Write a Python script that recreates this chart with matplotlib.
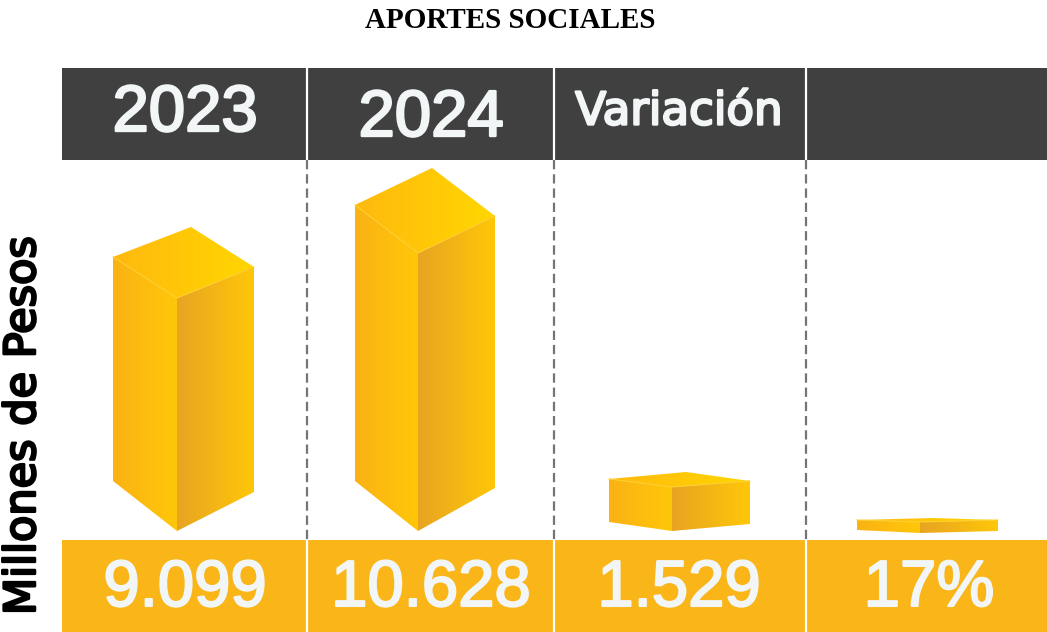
#!/usr/bin/env python3
"""Aportes sociales: pictographic 3D bars with header and value bands."""

import matplotlib

matplotlib.use("Agg")
import matplotlib.patheffects as pe
import matplotlib.pyplot as plt
import numpy as np
from matplotlib.colors import LinearSegmentedColormap
from matplotlib.patches import Polygon, Rectangle

TITLE = "APORTES SOCIALES"
Y_LABEL = "Millones de Pesos"
HEADERS = ["2023", "2024", "Variación", ""]
VALUE_LABELS = ["9.099", "10.628", "1.529", "17%"]
BAR_VALUES = [9099, 10628, 1529, 17]

# each block is its own pictogram, so each has its own scale (px per unit)
BAR_SCALES = [0.02561, 0.02616, 0.02878, 0.647]
BAR_X = [177, 418, 672, 920]
BAR_BOTTOM = [531, 531, 531, 533]
# offsets from the front edge: left/right x, top and bottom y of the sides
LEFT_DX = [-64, -63, -63, -63]
LEFT_TOP = [-41, -48, -8, -2]
LEFT_BOTTOM = [-50, -50, -9, -3]
RIGHT_DX = [77, 77, 78, 78]
RIGHT_TOP = [-31, -37, -6, -2]
RIGHT_BOTTOM = [-39, -43, -7, -2]
BACK_DX = [14, 14, 14, 13]
BACK_TOP = [-71, -85, -15, -4]

DIVIDERS = [307, 553.5, 806]
HEADER_X = [185, 431, 679, 926]
HEADER_Y = [114, 119, 112, 119]
HEADER_SIZE = [47, 47, 32.5, 47]
HEADER_FONT = ["Liberation Sans", "Liberation Sans", "DejaVu Sans", "Liberation Sans"]
VALUE_X = [185, 431, 679, 929]

DARK = "#404040"
BAND = "#FAB518"
TEXT = "#F2F6F7"
LEFT_CMAP = LinearSegmentedColormap.from_list("left", ["#FBB215", "#FFC708"])
RIGHT_CMAP = LinearSegmentedColormap.from_list("right", ["#E8A422", "#FFC708"])
TOP_CMAP = LinearSegmentedColormap.from_list("top", ["#FFB90F", "#FFD600"])


def face(ax, points, cmap):
    xs = [p[0] for p in points]
    ys = [p[1] for p in points]
    gradient = np.linspace(0, 1, 128).reshape(1, -1)
    image = ax.imshow(
        gradient,
        cmap=cmap,
        extent=(min(xs), max(xs), max(ys), min(ys)),
        aspect="auto",
        zorder=3,
    )
    patch = Polygon(points, closed=True, transform=ax.transData, facecolor="none", edgecolor="none")
    ax.add_patch(patch)
    image.set_clip_path(patch)


def thick(color, width):
    # medium weight with rounded ends, as in the reference lettering
    return [pe.withStroke(linewidth=width, foreground=color, capstyle="round", joinstyle="round")]


fig = plt.figure(figsize=(10.47, 6.32), dpi=100)
ax = fig.add_axes([0, 0, 1, 1])

# bands
ax.add_patch(Rectangle((62, 68), 985, 92, facecolor=DARK, edgecolor="none", zorder=1))
ax.add_patch(Rectangle((62, 540), 985, 92, facecolor=BAND, edgecolor="none", zorder=1))

# dividers: white across the bands, dashed between them
for x in DIVIDERS:
    ax.plot([x, x], [68, 160], color="white", linewidth=1.6, zorder=2)
    ax.plot([x, x], [540, 632], color="white", linewidth=1.6, zorder=2)
    ax.plot([x, x], [160, 544], color="#757575", linewidth=1.6, dashes=(4.2, 2.2), zorder=2)

# blocks
for i, value in enumerate(BAR_VALUES):
    x0 = BAR_X[i]
    bottom = BAR_BOTTOM[i]
    top = bottom - value * BAR_SCALES[i]
    left_x = x0 + LEFT_DX[i]
    right_x = x0 + RIGHT_DX[i]
    left_top = (left_x, top + LEFT_TOP[i])
    right_top = (right_x, top + RIGHT_TOP[i])
    back = (x0 + BACK_DX[i], top + BACK_TOP[i])
    face(ax, [left_top, (x0, top), (x0, bottom), (left_x, bottom + LEFT_BOTTOM[i])], LEFT_CMAP)
    face(ax, [(x0, top), right_top, (right_x, bottom + RIGHT_BOTTOM[i]), (x0, bottom)], RIGHT_CMAP)
    face(ax, [left_top, back, right_top, (x0, top)], TOP_CMAP)
    ax.plot(
        [left_top[0], x0, right_top[0]],
        [left_top[1], top, right_top[1]],
        color="#FFCF30",
        linewidth=0.8,
        zorder=4,
    )

# text
ax.text(510, 20, TITLE, ha="center", va="center", fontsize=21, fontweight="bold",
        family="Liberation Serif", color="black", zorder=5)
ax.text(23, 426, Y_LABEL, ha="center", va="center", rotation=90, fontsize=31,
        family="DejaVu Sans", color="black", zorder=5, path_effects=thick("black", 1.8))
for i, label in enumerate(HEADERS):
    ax.text(HEADER_X[i], HEADER_Y[i], label, ha="center", va="center", fontsize=HEADER_SIZE[i],
            family=HEADER_FONT[i], color=TEXT, zorder=5, path_effects=thick(TEXT, 1.7))
for i, label in enumerate(VALUE_LABELS):
    ax.text(VALUE_X[i], 589, label, ha="center", va="center", fontsize=47,
            family="Liberation Sans", color=TEXT, zorder=5, path_effects=thick(TEXT, 1.5))

ax.set_xlim(0, 1047)
ax.set_ylim(632, 0)
ax.axis("off")

fig.savefig("out.png", dpi=100, facecolor="white")
plt.close(fig)
